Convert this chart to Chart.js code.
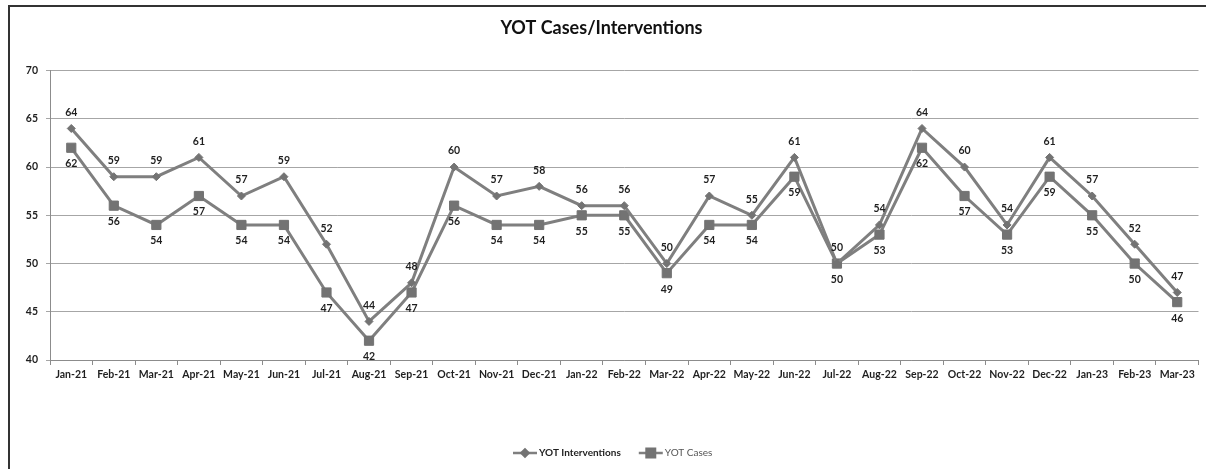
<!DOCTYPE html>
<html>
<head>
<meta charset="utf-8">
<script src="https://cdn.jsdelivr.net/npm/chart.js@4.4.1/dist/chart.umd.min.js"></script>
<style>
  html, body { margin: 0; padding: 0; background: #fff; overflow: hidden; }
  #frame { position: absolute; left: 8px; top: 5px; width: 1300px; height: 600px;
           border-left: 2px solid #333; border-top: 2px solid #333; box-sizing: border-box; }
  #wrap { position: absolute; left: 0; top: 0; width: 1206px; height: 469px; }
</style>
</head>
<body>
<div id="frame"></div>
<div id="wrap"><canvas id="c" width="1206" height="469"></canvas></div>
<script>
const categories = ["Jan-21","Feb-21","Mar-21","Apr-21","May-21","Jun-21","Jul-21","Aug-21","Sep-21","Oct-21","Nov-21","Dec-21","Jan-22","Feb-22","Mar-22","Apr-22","May-22","Jun-22","Jul-22","Aug-22","Sep-22","Oct-22","Nov-22","Dec-22","Jan-23","Feb-23","Mar-23"];
const interventions = [64,59,59,61,57,59,52,44,48,60,57,58,56,56,50,57,55,61,50,54,64,60,54,61,57,52,47];
const cases = [62,56,54,57,54,54,47,42,47,56,54,54,55,55,49,54,54,59,50,53,62,57,53,59,55,50,46];
const yTicks = [40,45,50,55,60,65,70];
const seriesNames = ["YOT Interventions", "YOT Cases"];

const FONT = "Lato, 'Open Sans', sans-serif";
const LINE = "#7f7f7f";
const MARK = "#737373";
const TEXT = "#1f1f1f";

const dataLabels = {
  id: 'dataLabels',
  afterDatasetsDraw(chart) {
    const ctx = chart.ctx;
    ctx.save();
    ctx.font = "bold 10.5px " + FONT;
    ctx.fillStyle = TEXT;
    ctx.textAlign = 'center';
    ctx.textBaseline = 'middle';
    chart.data.datasets.forEach((ds, i) => {
      const meta = chart.getDatasetMeta(i);
      meta.data.forEach((pt, j) => {
        const dy = i === 0 ? -16 : 16;
        ctx.fillText(String(ds.data[j]), pt.x, pt.y + dy);
      });
    });
    ctx.restore();
  }
};

const customLegend = {
  id: 'customLegend',
  afterDraw(chart) {
    const ctx = chart.ctx;
    ctx.save();
    const y = 453;
    const items = [
      { name: seriesNames[0], style: 'rectRot', r: 3.5, bold: true },
      { name: seriesNames[1], style: 'rect', r: 6, bold: false }
    ];
    let x = 513;
    items.forEach((it, k) => {
      ctx.strokeStyle = LINE;
      ctx.lineWidth = 2.5;
      ctx.beginPath(); ctx.moveTo(x, y); ctx.lineTo(x + 24, y); ctx.stroke();
      ctx.fillStyle = MARK;
      ctx.strokeStyle = MARK;
      Chart.helpers.drawPoint(ctx, { pointStyle: it.style, radius: it.r, borderWidth: 1 }, x + 12, y);
      ctx.font = (it.bold ? "bold " : "") + "10px " + FONT;
      ctx.fillStyle = it.bold ? TEXT : '#555';
      ctx.textAlign = 'left';
      ctx.textBaseline = 'middle';
      ctx.fillText(it.name, x + 26, y);
      x += 26 + ctx.measureText(it.name).width + 18;
    });
    ctx.restore();
  }
};

new Chart(document.getElementById('c'), {
  type: 'line',
  data: {
    labels: categories,
    datasets: [
      { label: seriesNames[0], data: interventions, borderColor: LINE, borderWidth: 3,
        pointStyle: 'rectRot', pointRadius: 4, pointBackgroundColor: MARK, pointBorderColor: MARK,
        pointBorderWidth: 1, tension: 0 },
      { label: seriesNames[1], data: cases, borderColor: LINE, borderWidth: 3,
        pointStyle: 'rect', pointRadius: 6.5, pointBackgroundColor: MARK, pointBorderColor: MARK,
        pointBorderWidth: 1, tension: 0 }
    ]
  },
  options: {
    responsive: false,
    animation: false,
    layout: { padding: { left: 0, right: 3, top: 0, bottom: 0 } },
    plugins: {
      legend: { display: false },
      tooltip: { enabled: false },
      title: { display: true, text: 'YOT Cases/Interventions', color: '#111',
               font: { family: FONT, size: 18, weight: 'bold' }, padding: { top: 17, bottom: 32 } }
    },
    scales: {
      x: {
        offset: true,
        grid: { offset: true, drawOnChartArea: false, drawTicks: true, tickLength: 5, color: '#8c8c8c' },
        border: { color: '#8c8c8c', width: 1 },
        ticks: { color: TEXT, font: { family: FONT, size: 10.5, weight: 'bold' }, padding: 3,
                 maxRotation: 0, autoSkip: false },
        afterFit(scale) { scale.height = 109; }
      },
      y: {
        min: 40, max: 70,
        afterBuildTicks(scale) { scale.ticks = yTicks.map(v => ({ value: v })); },
        grid: { color: '#a6a6a6', lineWidth: 1, drawTicks: true, tickLength: 4 },
        border: { color: '#8c8c8c', width: 1 },
        ticks: { color: TEXT, font: { family: FONT, size: 10.5, weight: 'bold' }, padding: 8 },
        afterFit(scale) { scale.width = 50; }
      }
    }
  },
  plugins: [dataLabels, customLegend]
});
</script>
</body>
</html>
